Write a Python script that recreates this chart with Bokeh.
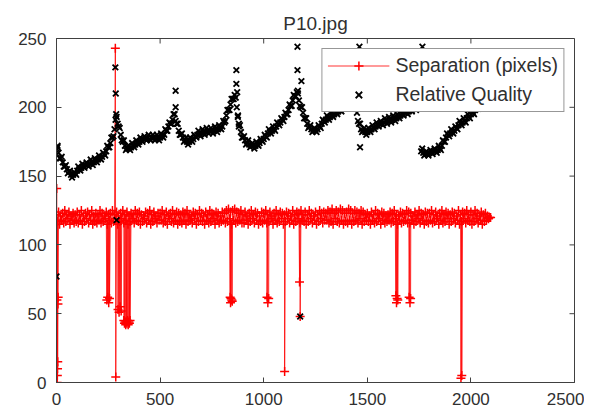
from bokeh.plotting import figure
from bokeh.models import Range1d, FixedTicker, Legend, LegendItem
from bokeh.embed import file_html
from bokeh.resources import INLINE

TITLE = "P10.jpg"
X_TICKS = [0, 500, 1000, 1500, 2000, 2500]
Y_TICKS = [0, 50, 100, 150, 200, 250]

# Separation (pixels): upper edge of the noisy band (frames 0, 10, 20, ...)
band_hi_x = list(range(0, 2100, 10))
band_hi = [
    122, 124, 121, 123, 125, 122, 124, 121, 123, 122,
    124, 122, 125, 121, 123, 124, 122, 125, 121, 123,
    122, 125, 123, 121, 124, 122, 123, 125, 122, 124,
    121, 123, 125, 122, 124, 121, 123, 122, 125, 123,
    124, 122, 121, 124, 123, 125, 122, 124, 121, 123,
    123, 125, 122, 124, 121, 123, 125, 122, 124, 123,
    122, 124, 123, 125, 122, 121, 124, 123, 122, 125,
    123, 121, 124, 122, 125, 123, 122, 124, 123, 121,
    124, 123, 125, 126, 124, 125, 126, 124, 123, 125,
    122, 124, 121, 123, 125, 122, 124, 123, 121, 124,
    123, 125, 122, 124, 121, 123, 125, 122, 124, 123,
    122, 124, 123, 121, 125, 122, 124, 123, 125, 122,
    124, 122, 125, 123, 121, 124, 122, 125, 123, 124,
    123, 125, 124, 126, 123, 125, 124, 126, 125, 123,
    124, 126, 125, 123, 125, 124, 123, 125, 124, 122,
    123, 121, 124, 122, 125, 123, 122, 124, 123, 121,
    122, 124, 123, 125, 122, 121, 124, 123, 122, 125,
    124, 123, 121, 124, 122, 125, 123, 122, 124, 123,
    123, 125, 122, 124, 121, 123, 125, 122, 124, 123,
    122, 124, 123, 121, 125, 122, 124, 123, 125, 122,
    124, 122, 125, 123, 121, 124, 122, 123, 121, 120,
]
# Separation (pixels): lower edge of the noisy band (frames 5, 15, 25, ...)
band_lo_x = list(range(5, 2100, 10))
band_lo = [
    117, 115, 118, 116, 117, 119, 115, 118, 116, 117,
    116, 118, 115, 117, 119, 116, 118, 115, 117, 116,
    118, 116, 117, 119, 115, 118, 116, 117, 119, 115,
    117, 119, 116, 118, 115, 117, 119, 116, 118, 117,
    115, 117, 119, 116, 118, 115, 117, 119, 116, 118,
    118, 116, 117, 115, 119, 117, 116, 118, 115, 117,
    116, 118, 115, 117, 118, 116, 119, 115, 117, 118,
    117, 115, 118, 116, 117, 119, 115, 118, 116, 117,
    118, 116, 117, 119, 115, 118, 116, 117, 118, 116,
    116, 118, 115, 117, 119, 116, 118, 115, 117, 116,
    118, 116, 117, 119, 115, 118, 116, 117, 119, 115,
    117, 119, 116, 118, 115, 117, 119, 116, 118, 117,
    115, 117, 119, 116, 118, 115, 117, 119, 116, 118,
    118, 116, 117, 115, 119, 117, 116, 118, 115, 117,
    116, 118, 115, 117, 118, 116, 119, 115, 117, 118,
    117, 115, 118, 116, 117, 119, 115, 118, 116, 117,
    118, 116, 117, 119, 115, 118, 116, 117, 118, 116,
    116, 118, 115, 117, 119, 116, 118, 115, 117, 116,
    118, 116, 117, 119, 115, 118, 116, 117, 119, 115,
    117, 119, 116, 118, 115, 117, 119, 116, 118, 117,
    115, 117, 119, 116, 118, 115, 117, 118, 119, 120,
]
# Separation drop-outs / spikes
spike_x = [1, 2, 3, 4, 5, 6, 7, 8,
           243, 247, 252, 256,
           284, 286,
           297, 302, 307, 312,
           325, 328, 331, 334, 337, 340, 343, 346, 349, 352, 355,
           838, 840, 842, 846, 848,
           1016, 1020, 1024,
           1101,
           1173, 1176,
           1638, 1641, 1644, 1647,
           1702, 1706, 1709,
           1952, 1956]
spike_sep = [141, 60, 0, 5, 10, 15, 57, 62,
             60, 62, 58, 61,
             243, 4,
             53, 51, 55, 52,
             45, 43, 44, 42, 44, 43, 45, 42, 44, 43, 45,
             62, 58, 61, 60, 59,
             62, 58, 61,
             8,
             73, 48,
             63, 58, 61, 60,
             62, 58, 61,
             3, 5]

# Relative Quality readings (frames 0, 10, 20, ...)
qual_x = list(range(0, 2100, 10))
qual = [
    170, 167, 163, 160, 157, 155, 153, 151, 151, 152,
    154, 155, 156, 157, 158, 158, 159, 160, 160, 161,
    162, 163, 164, 166, 168, 171, 174, 178, 184, 193,
    186, 180, 175, 172, 170, 170, 171, 172, 173, 174,
    175, 176, 177, 177, 178, 177, 178, 178, 177, 178,
    178, 179, 180, 183, 186, 188, 191, 195, 188, 183,
    180, 178, 176, 175, 175, 176, 177, 179, 180, 181,
    181, 182, 182, 183, 183, 183, 183, 184, 184, 185,
    186, 189, 194, 198, 202, 206, 209, 200, 188, 182,
    178, 176, 174, 173, 172, 172, 172, 173, 174, 176,
    177, 179, 181, 182, 183, 184, 186, 188, 189, 191,
    193, 195, 198, 201, 205, 208, 211, 205, 200, 196,
    192, 188, 186, 184, 183, 183, 184, 186, 188, 190,
    191, 192, 193, 194, 195, 196, 197, 198, 200, 202,
    204, 206, 208, 210, 205, 196, 188, 184, 183, 182,
    182, 183, 184, 185, 186, 187, 188, 188, 189, 190,
    190, 191, 191, 192, 192, 193, 194, 195, 196, 197,
    197, 198, 199, 200, 200, 203, 168, 167, 166, 166,
    167, 167, 168, 168, 169, 170, 172, 175, 178, 180,
    181, 182, 183, 185, 187, 188, 189, 190, 192, 193,
    195, 196, 198, 200, 201, 202, 203, 204, 205, 206,
]
# Relative Quality readings (frames 5, 15, 25, ...)
qual2_x = list(range(5, 2100, 10))
qual2 = [
    171, 163, 164, 157, 158, 152, 154, 149, 153, 151,
    157, 154, 159, 156, 160, 157, 162, 158, 163, 160,
    165, 162, 167, 165, 172, 171, 178, 179, 191, 188,
    185, 176, 176, 169, 172, 169, 174, 171, 176, 173,
    178, 175, 179, 176, 180, 176, 180, 176, 180, 176,
    181, 178, 184, 183, 189, 188, 195, 190, 188, 180,
    181, 175, 178, 173, 178, 175, 180, 178, 183, 179,
    184, 180, 185, 181, 185, 181, 186, 182, 187, 184,
    190, 190, 198, 198, 206, 206, 207, 193, 187, 178,
    179, 173, 176, 171, 174, 170, 175, 172, 177, 175,
    180, 178, 184, 181, 186, 183, 189, 187, 192, 190,
    196, 195, 202, 201, 209, 208, 210, 201, 200, 192,
    192, 185, 187, 182, 185, 182, 187, 185, 191, 189,
    194, 191, 196, 193, 198, 195, 200, 197, 203, 201,
    207, 205, 211, 206, 203, 190, 188, 182, 185, 180,
    185, 182, 187, 184, 189, 186, 190, 187, 192, 188,
    193, 189, 194, 190, 195, 192, 197, 194, 199, 195,
    200, 197, 202, 198, 204, 207, 170, 165, 168, 165,
    169, 166, 170, 167, 172, 169, 176, 175, 181, 179,
    184, 181, 186, 184, 190, 187, 192, 189, 195, 192,
    198, 195, 201, 199, 204, 201, 206, 203, 208, 205,
]
# Relative Quality outliers
qout_x = [0, 5, 284, 286, 288, 290, 575, 575, 868, 868, 872, 876, 880,
          1163, 1163, 1182, 1165, 1176, 1462, 1465, 1766]
qout = [77, 172, 229, 210, 195, 118, 212, 200, 227, 217, 211, 194, 186,
        244, 227, 219, 212, 48, 244, 171, 244]

pts = sorted(zip(band_hi_x + band_lo_x + spike_x, band_hi + band_lo + spike_sep),
             key=lambda t: t[0])
sep_x = [a for a, _ in pts]
sep_y = [b for _, b in pts]
q_x = qual_x + qual2_x + qout_x
q_y = qual + qual2 + qout

FONT = "Liberation Sans"
AX = "#404040"
TXT = "#303030"
W, H = 584, 410
BL, BR, BT, BB = 56, 10, 38, 28
FW, FH = W - BL - BR, H - BT - BB
TICK_PX = 5

p = figure(width=W, height=H, output_backend="svg", toolbar_location=None,
           x_range=Range1d(0, 2500), y_range=Range1d(0, 250),
           min_border_left=BL, min_border_right=BR, min_border_top=BT, min_border_bottom=BB,
           title=TITLE)
p.title.align = "center"
p.title.text_font = FONT
p.title.text_font_size = "19px"
p.title.text_font_style = "normal"
p.title.text_color = TXT
p.xgrid.visible = False
p.ygrid.visible = False
p.outline_line_color = AX
p.outline_line_alpha = 1
p.outline_line_width = 1

for ax, ticks in ((p.xaxis[0], X_TICKS), (p.yaxis[0], Y_TICKS)):
    ax.ticker = FixedTicker(ticks=ticks)
    ax.major_tick_in = TICK_PX
    ax.major_tick_out = 0
    ax.minor_tick_line_color = None
    ax.axis_line_color = AX
    ax.major_tick_line_color = AX
    ax.major_label_text_font = FONT
    ax.major_label_text_font_size = "17px"
    ax.major_label_text_color = TXT
    ax.major_label_standoff = 10

# inward ticks on the top and right edges of the box
ty = 250 * TICK_PX / FH
tx = 2500 * TICK_PX / FW
p.segment(x0=X_TICKS, y0=[250] * len(X_TICKS), x1=X_TICKS, y1=[250 - ty] * len(X_TICKS),
          line_color=AX, line_width=1)
p.segment(x0=[2500] * len(Y_TICKS), y0=Y_TICKS, x1=[2500 - tx] * len(Y_TICKS), y1=Y_TICKS,
          line_color=AX, line_width=1)

r_line = p.line(sep_x, sep_y, line_color="#ff0000", line_width=1, line_alpha=0.8)
r_cross = p.scatter(sep_x, sep_y, marker="cross", size=9, line_color="#ff0000", line_width=1.5)
r_q = p.scatter(q_x, q_y, marker="x", size=8, line_color="black", line_width=1.8)

legend = Legend(items=[LegendItem(label="Separation (pixels)", renderers=[r_line, r_cross]),
                       LegendItem(label="Relative Quality", renderers=[r_q])],
                location="top_right")
legend.label_text_font = FONT
legend.label_text_font_size = "19.5px"
legend.label_text_color = TXT
legend.glyph_width = 62
legend.glyph_height = 23
legend.label_standoff = 6
legend.padding = 5
legend.spacing = 6
legend.margin = 10
legend.border_line_color = TXT
legend.border_line_width = 1
legend.background_fill_alpha = 1
p.add_layout(legend)

open("out.html", "w").write(file_html(p, INLINE))
